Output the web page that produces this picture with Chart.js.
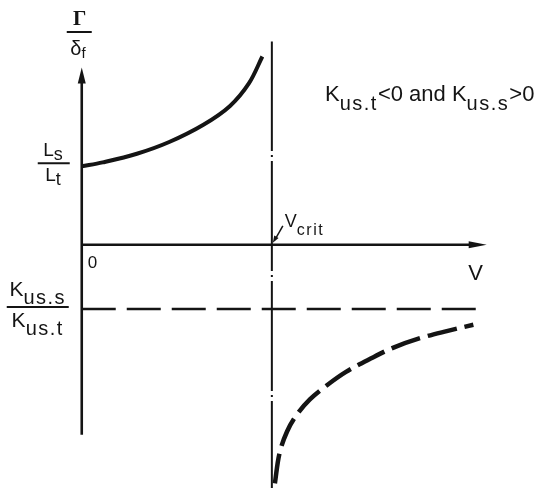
<!DOCTYPE html>
<html>
<head>
<meta charset="utf-8">
<script src="https://cdn.jsdelivr.net/npm/chart.js@4.4.1/dist/chart.umd.min.js"></script>
<style>
  html, body { margin: 0; padding: 0; background: #fff; }
  #grafico { display: block; }
</style>
</head>
<body>
<canvas id="grafico" width="538" height="488"></canvas>
<script>
// velocidade em unidades de Vcrit, ganho em unidades de Ls/Lt
const vCrit = 1.0
const eixoV = [0, 2.13]
const eixoGanho = [-2.42, 2.26]
const linhaCrit = [-3.1, 2.59]

// abaixo de Vcrit: parte de Ls/Lt e cresce
const razaoL = 1.0
const vAbaixo = [0, 0.11, 0.29, 0.46, 0.64, 0.78, 0.88, 0.95]
const ganhoAbaixo = [1.0, 1.05, 1.16, 1.31, 1.53, 1.77, 2.06, 2.40]

// acima de Vcrit: negativo, tende a Kus.s/Kus.t
const razaoK = -0.82
const fimAssintota = 2.12
const vAcima = [1.016, 1.04, 1.08, 1.13, 1.20, 1.29, 1.39, 1.52, 1.64, 1.78, 1.92, 2.06]
const ganhoAcima = [-3.04, -2.66, -2.38, -2.17, -1.97, -1.79, -1.62, -1.45, -1.31, -1.19, -1.10, -1.02]

const preto = '#141414'
const sans = '"Liberation Sans", Arial, sans-serif'

function pontos(xs, ys) {
  return xs.map((x, i) => ({ x: x, y: ys[i] }))
}

function linha(dados, largura, tracejado, extra) {
  return Object.assign({
    data: dados,
    showLine: true,
    borderColor: preto,
    borderWidth: largura,
    borderDash: tracejado,
    pointRadius: 0,
    fill: false,
  }, extra || {})
}

// texto com partes em subscrito: [['K', 0], ['us.s', 1]]
function textoSub(ctx, partes, x, y, tam, tamSub, desce, align) {
  let larguras = partes.map(p => {
    ctx.font = (p[1] ? tamSub : tam) + 'px ' + sans
    ctx.letterSpacing = p[1] ? '1.5px' : '0px'
    return ctx.measureText(p[0]).width
  })
  let total = larguras.reduce((a, b) => a + b, 0)
  let cx = align === 'center' ? x - total / 2 : align === 'right' ? x - total : x
  ctx.textAlign = 'left'
  ctx.textBaseline = 'alphabetic'
  partes.forEach((p, i) => {
    ctx.font = (p[1] ? tamSub : tam) + 'px ' + sans
    ctx.letterSpacing = p[1] ? '1.5px' : '0px'
    ctx.fillText(p[0], cx, p[1] ? y + desce : y)
    cx += larguras[i]
  })
  ctx.letterSpacing = '0px'
}

function seta(ctx, x, y, angulo, comp, larg) {
  ctx.save()
  ctx.translate(x, y)
  ctx.rotate(angulo)
  ctx.beginPath()
  ctx.moveTo(0, 0)
  ctx.lineTo(-comp, -larg / 2)
  ctx.lineTo(-comp, larg / 2)
  ctx.closePath()
  ctx.fill()
  ctx.restore()
}

function fracao(ctx, cx, yLinha, meia, cima, baixo, tam, tamSub, desce) {
  ctx.beginPath()
  ctx.moveTo(cx - meia, yLinha)
  ctx.lineTo(cx + meia, yLinha)
  ctx.lineWidth = 2
  ctx.stroke()
  textoSub(ctx, cima, cx, yLinha - desce - 3, tam, tamSub, desce, 'center')
  textoSub(ctx, baixo, cx, yLinha + tam - 1, tam, tamSub, desce, 'center')
}

const rotulos = {
  id: 'rotulos',
  afterDatasetsDraw(chart) {
    const ctx = chart.ctx
    const sx = chart.scales.x
    const sy = chart.scales.y
    const x0 = sx.getPixelForValue(0)
    const y0 = sy.getPixelForValue(0)
    const xc = sx.getPixelForValue(vCrit)
    ctx.save()
    ctx.fillStyle = preto
    ctx.strokeStyle = preto

    // pontas dos eixos
    seta(ctx, x0, sy.getPixelForValue(eixoGanho[1]), -Math.PI / 2, 16, 8)
    seta(ctx, sx.getPixelForValue(eixoV[1]), y0, 0, 18, 7)

    // Gamma / delta_f
    ctx.beginPath()
    ctx.moveTo(x0 - 15, 32)
    ctx.lineTo(x0 + 10, 32)
    ctx.lineWidth = 2
    ctx.stroke()
    ctx.font = 'bold 21px "Liberation Serif", serif'
    ctx.textAlign = 'center'
    ctx.fillText('Γ', x0 - 2, 25)
    textoSub(ctx, [['δ', 0], ['f', 1]], x0 - 3, 55, 20, 15, 3, 'center')

    // Ls / Lt
    fracao(ctx, x0 - 28, sy.getPixelForValue(razaoL) - 3, 16,
      [['L', 0], ['s', 1]], [['L', 0], ['t', 1]], 19, 18, 4)

    // Kus.s / Kus.t
    fracao(ctx, x0 - 44, sy.getPixelForValue(razaoK) - 2, 31,
      [['K', 0], ['us.s', 1]], [['K', 0], ['us.t', 1]], 21, 20, 8)

    // origem e eixo V
    ctx.font = '17px ' + sans
    ctx.textAlign = 'left'
    ctx.fillText('0', x0 + 6, y0 + 23)
    ctx.font = '22px ' + sans
    ctx.textAlign = 'center'
    ctx.fillText('V', sx.getPixelForValue(eixoV[1]) - 11, y0 + 35)

    // Vcrit com seta apontando o cruzamento
    ctx.beginPath()
    ctx.moveTo(xc + 11, y0 - 19)
    ctx.lineTo(xc + 3, y0 - 5)
    ctx.lineWidth = 1.5
    ctx.stroke()
    seta(ctx, xc + 1, y0 - 2, Math.atan2(17, -10), 7, 5)
    textoSub(ctx, [['V', 0], ['crit', 1]], xc + 13, y0 - 18, 18, 16, 8, 'left')

    // condicao de sub/sobre-esterco
    textoSub(ctx, [['K', 0], ['us.t', 1], ['<0 and K', 0], ['us.s', 1], ['>0', 0]],
      325, 101, 22, 20, 9, 'left')

    ctx.restore()
  },
}

const grafico = new Chart(document.getElementById('grafico'), {
  type: 'scatter',
  data: {
    datasets: [
      linha(pontos(vAbaixo, ganhoAbaixo), 4, [], { tension: 0.35 }),
      linha(pontos(vAcima, ganhoAcima), 4.5, [30, 8], { tension: 0.35 }),
      linha([{ x: 0, y: razaoK }, { x: fimAssintota, y: razaoK }], 2.5, [34, 11]),
      linha([{ x: vCrit, y: linhaCrit[0] }, { x: vCrit, y: linhaCrit[1] }], 2, [110, 4, 2, 4], { borderDashOffset: 23 }),
      linha([{ x: eixoV[0], y: 0 }, { x: eixoV[1] - 0.05, y: 0 }], 2.6, []),
      linha([{ x: 0, y: eixoGanho[0] }, { x: 0, y: eixoGanho[1] - 0.1 }], 2.6, []),
    ],
  },
  options: {
    responsive: false,
    maintainAspectRatio: false,
    devicePixelRatio: 1,
    animation: false,
    layout: { padding: 0 },
    plugins: { legend: { display: false }, tooltip: { enabled: false } },
    scales: {
      x: { type: 'linear', min: -0.43, max: 2.4, display: false },
      y: { type: 'linear', min: -3.1, max: 3.12, display: false },
    },
  },
  plugins: [rotulos],
})
</script>
</body>
</html>
